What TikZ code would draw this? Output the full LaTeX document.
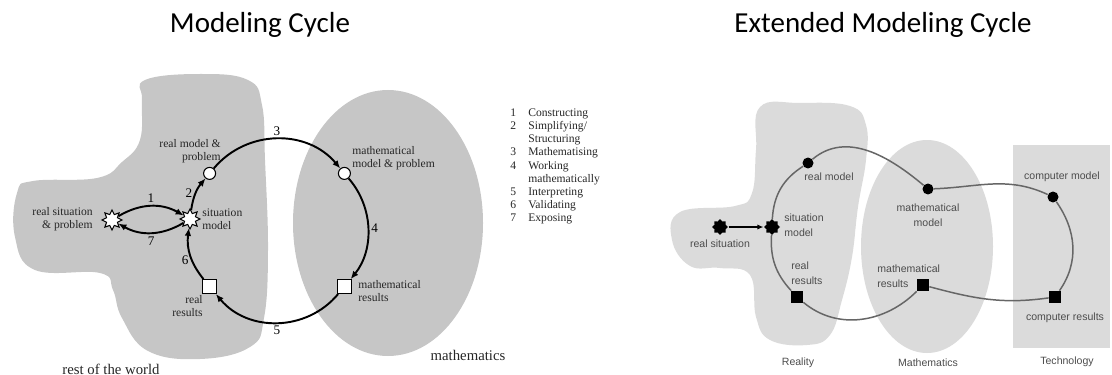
\documentclass[tikz,border=0pt]{standalone}
\usepackage{fontspec}
\setmainfont{Liberation Serif}
\newfontfamily\headfont{Carlito}
\newfontfamily\arialfont{Liberation Sans}
\usetikzlibrary{arrows.meta,shapes.geometric}

\begin{document}
\begin{tikzpicture}[x=0.02cm, y=0.02cm,
  title/.style={font=\headfont\fontsize{16.5}{20}\selectfont},
  lbl/.style={inner sep=0pt, text=black!85, font=\fontsize{6.6}{7.5}\selectfont},
  num/.style={inner sep=1.5pt, font=\fontsize{7.5}{9}\selectfont},
  xlbl/.style={inner sep=0pt, text=black!70, font=\arialfont\fontsize{6}{8.5}\selectfont},
  sitnode/.style={star, star points=8, star point ratio=1.7, draw, fill=white, minimum size=0.4cm, inner sep=0pt, line width=0.6pt},
  modnode/.style={circle, draw, fill=white, minimum size=0.24cm, inner sep=0pt, line width=0.6pt},
  resnode/.style={rectangle, draw, fill=white, minimum size=0.28cm, inner sep=0pt, line width=0.6pt},
  xsit/.style={star, star points=8, star point ratio=1.35, fill=black, minimum size=0.32cm, inner sep=0pt},
  xmod/.style={circle, fill=black, minimum size=0.22cm, inner sep=0pt},
  xres/.style={rectangle, fill=black, minimum size=0.24cm, inner sep=0pt},
  arr/.style={-{Latex[length=4.5pt,width=3.8pt]}, line width=1.1pt},
  xline/.style={draw=black!60, line width=0.85pt}
]
\useasboundingbox (0,0) rectangle (1112,-375);

% titles
\node[title] (t1) at (260,-25) {Modeling Cycle};
\node[title] (t2) at (883,-25) {Extended Modeling Cycle};

% ---- modeling cycle ----
\fill[gray!45] plot[smooth cycle, tension=0.7] coordinates {
  (145,-80) (200,-74) (248,-80) (262,-105) (265,-160) (268,-250) (264,-318)
  (250,-347) (200,-359) (148,-351) (122,-318) (113,-290) (100,-273) (35,-270)
  (15,-237) (17,-193) (33,-181) (97,-178) (122,-162) (140,-140) (142,-100)};
\fill[gray!45] (388,-223) ellipse [x radius=95, y radius=133];

\node[sitnode] (rsit) at (112,-220) {};
\node[sitnode] (smod) at (190,-219) {};
\node[modnode] (rmod) at (209.6,-173.4) {};
\node[modnode] (mmod) at (344.4,-173.4) {};
\node[resnode] (mres) at (344.4,-286.6) {};
\node[resnode] (rres) at (209.6,-286.6) {};

\draw[arr] (rsit) to[bend left=30] node[num, midway, above] {1} (smod);
\draw[arr] (smod) to[bend left=30] node[num, midway, below] {7} (rsit);
\draw[arr] (smod) to[bend left=16] node[num, midway, left] {2} (rmod);
\draw[arr] (rmod) to[bend left=50, looseness=1.04] node[num, midway, above] {3} (mmod);
\draw[arr] (mmod) to[bend left=40, looseness=0.96] node[num, midway, right] {4} (mres);
\draw[arr] (mres) to[bend left=50, looseness=1.04] node[num, midway, below] {5} (rres);
\draw[arr] (rres) to[bend left=23] node[num, pos=0.4, left] {6} (smod);

\node[lbl, align=right, anchor=east] (lrsit) at (93,-219) {real situation\\\& problem};
\node[lbl, align=left, anchor=west] (lsmod) at (202,-219) {situation\\model};
\node[lbl, align=right, anchor=east] (lrmod) at (221,-151) {real model \&\\problem};
\node[lbl, align=right, anchor=east] (lrres) at (203,-306) {real\\results};
\node[lbl, align=left, anchor=west] (lmmod) at (352,-158) {mathematical\\model \& problem};
\node[lbl, align=left, anchor=west] (lmres) at (358,-291) {mathematical\\results};
\node[lbl, font=\fontsize{8.4}{10}\selectfont] (world) at (111,-369) {rest of the world};
\node[lbl, font=\fontsize{8.4}{10}\selectfont] (maths) at (468,-355) {mathematics};

% legend
\node[lbl, anchor=west] (legend) at (510,-166.5) {%
  \renewcommand{\arraystretch}{1}%
  \begin{tabular}{@{}p{0.36cm}@{}l@{}}
  1 & Constructing\\
  2 & Simplifying/\\
    & Structuring\\
  3 & Mathematising\\
  4 & Working\\
    & mathematically\\
  5 & Interpreting\\
  6 & Validating\\
  7 & Exposing
  \end{tabular}};

% ---- extended modeling cycle ----
\fill[gray!28] plot[smooth cycle, tension=0.7] coordinates {
  (760,-107) (800,-103) (850,-106) (866,-125) (866,-160) (858,-207) (852,-257)
  (842,-300) (830,-335) (807,-345) (770,-340) (756,-317) (750,-275) (720,-268)
  (690,-266) (672,-240) (680,-212) (735,-206) (752,-193) (756,-150)};
\fill[white] (927,-246.5) ellipse [x radius=72, y radius=113];
\fill[gray!28] (927,-246.5) ellipse [x radius=66, y radius=106.5];
\fill[gray!28] (1013,-145) rectangle (1110,-348);

\node[xsit] (xrsit) at (720,-227) {};
\node[xsit] (xsmod) at (772,-227) {};
\node[xmod] (xrmod) at (808,-163) {};
\node[xres] (xrres) at (797,-297) {};
\node[xmod] (xmmod) at (928,-189) {};
\node[xres] (xmres) at (923,-285) {};
\node[xmod] (cmod) at (1053,-197) {};
\node[xres] (cres) at (1055,-297) {};

\draw[xline] (xsmod) to[bend left=27] (xrmod);
\draw[xline] (xrmod) to[out=40, in=140] (xmmod);
\draw[xline] (xmmod) to[out=2, in=155] (cmod);
\draw[xline] (cmod) to[out=-55, in=55] (cres);
\draw[xline] (cres) to[out=188, in=-15] (xmres);
\draw[xline] (xmres) to[out=225, in=-40] (xrres);
\draw[xline] (xrres) to[bend left=23] (xsmod);
\draw[-{Latex[length=3.5pt,width=3pt]}, line width=0.7pt] (xrsit) -- (xsmod);

\node[xlbl] (lxrsit) at (720,-244) {real situation};
\node[xlbl, align=left, anchor=west] (lxsmod) at (784,-225) {situation\\model};
\node[xlbl] (lxrmod) at (829,-177) {real model};
\node[xlbl, align=left, anchor=west] (lxrres) at (791,-273) {real\\results};
\node[xlbl, align=center] (lxmmod) at (928,-215) {mathematical\\model};
\node[xlbl, align=left, anchor=west] (lxmres) at (877,-276) {mathematical\\results};
\node[xlbl] (lcmod) at (1062,-177) {computer model};
\node[xlbl] (lcres) at (1065,-318) {computer results};
\node[xlbl] (reality) at (798,-363) {Reality};
\node[xlbl] (mathem) at (928,-363) {Mathematics};
\node[xlbl] (techno) at (1067,-362) {Technology};
\end{tikzpicture}
\end{document}
